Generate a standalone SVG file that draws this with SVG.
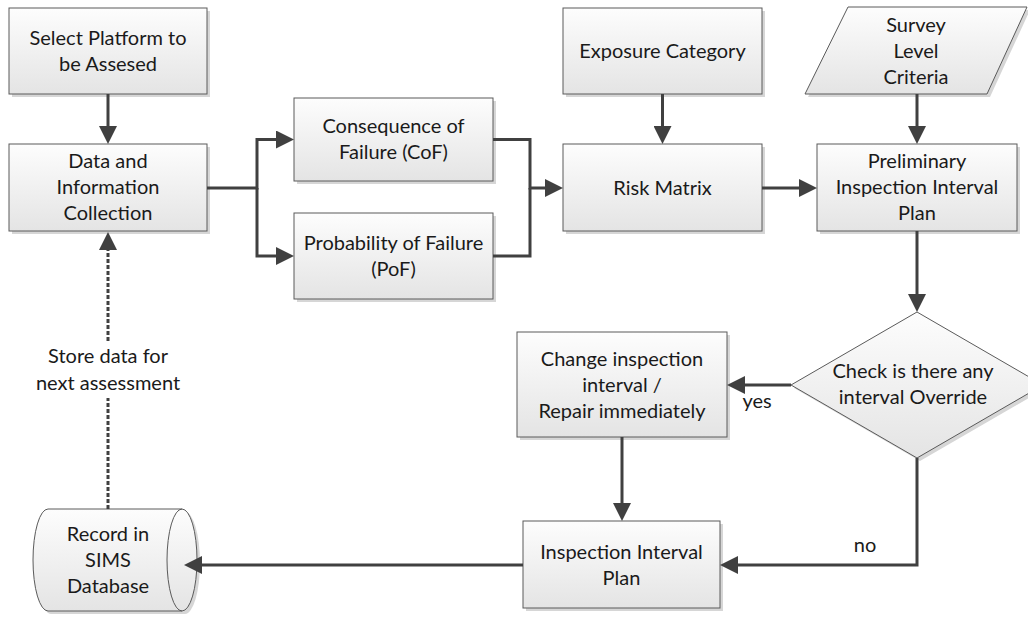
<svg xmlns="http://www.w3.org/2000/svg" width="1028" height="621" viewBox="0 0 1028 621">
  <defs>
    <linearGradient id="fillGrad" x1="0" y1="0" x2="0" y2="1">
      <stop offset="0" stop-color="#fdfdfd"/>
      <stop offset="1" stop-color="#e4e4e4"/>
    </linearGradient>
    <marker id="arrow" markerUnits="userSpaceOnUse" markerWidth="18" markerHeight="18" refX="14" refY="9" orient="auto">
      <path d="M0,0 L18,9 L0,18 z" fill="#404040"/>
    </marker>
    <style>
      .shape { fill: url(#fillGrad); stroke: #5a5a5a; stroke-width: 1; }
      .shadow { fill: #d6d6d6; stroke: none; }
      .label { font-family: Lato, "Liberation Sans", sans-serif; font-size: 20px; fill: #1a1a1a; text-anchor: middle; }
      .conn { fill: none; stroke: #404040; stroke-width: 3; }
      .arrowed { marker-end: url(#arrow); }
      .dotted { stroke-dasharray: 4 2; }
    </style>
  </defs>
  <rect width="1028" height="621" fill="#ffffff"/>

  <g id="select-platform">
    <rect class="shadow" x="12" y="11" width="198" height="86"/>
    <rect class="shape" x="9" y="8" width="198" height="86"/>
    <text class="label" x="108" y="45">Select Platform to</text>
    <text class="label" x="108" y="71">be Assesed</text>
  </g>

  <g id="data-collection">
    <rect class="shadow" x="12" y="147" width="198" height="87"/>
    <rect class="shape" x="9" y="144" width="198" height="87"/>
    <text class="label" x="108" y="168">Data and</text>
    <text class="label" x="108" y="194">Information</text>
    <text class="label" x="108" y="220">Collection</text>
  </g>

  <g id="cof">
    <rect class="shadow" x="297" y="101" width="199" height="83"/>
    <rect class="shape" x="294" y="98" width="199" height="83"/>
    <text class="label" x="393.5" y="133">Consequence of</text>
    <text class="label" x="393.5" y="159">Failure (CoF)</text>
  </g>

  <g id="pof">
    <rect class="shadow" x="297" y="216" width="199" height="86"/>
    <rect class="shape" x="294" y="213" width="199" height="86"/>
    <text class="label" x="393.5" y="250">Probability of Failure</text>
    <text class="label" x="393.5" y="276">(PoF)</text>
  </g>

  <g id="exposure">
    <rect class="shadow" x="566" y="11" width="199" height="86"/>
    <rect class="shape" x="563" y="8" width="199" height="86"/>
    <text class="label" x="662.5" y="58">Exposure Category</text>
  </g>

  <g id="risk-matrix">
    <rect class="shadow" x="566" y="147" width="199" height="87"/>
    <rect class="shape" x="563" y="144" width="199" height="87"/>
    <text class="label" x="662.5" y="194.5">Risk Matrix</text>
  </g>

  <g id="survey">
    <polygon class="shadow" points="851,10 1030,10 990,97 808,97"/>
    <polygon class="shape" points="848,7 1027,7 987,94 805,94"/>
    <text class="label" x="916" y="32">Survey</text>
    <text class="label" x="916" y="58">Level</text>
    <text class="label" x="916" y="84">Criteria</text>
  </g>

  <g id="preliminary">
    <rect class="shadow" x="820" y="147" width="200" height="87"/>
    <rect class="shape" x="817" y="144" width="200" height="87"/>
    <text class="label" x="917" y="168">Preliminary</text>
    <text class="label" x="917" y="194">Inspection Interval</text>
    <text class="label" x="917" y="220">Plan</text>
  </g>

  <g id="override-check">
    <polygon class="shadow" points="920,315 1046,388 920,461 794,388"/>
    <polygon class="shape" points="917,312 1043,385 917,458 791,385"/>
    <text class="label" x="913" y="378">Check is there any</text>
    <text class="label" x="913" y="404">interval Override</text>
  </g>

  <g id="change-interval">
    <rect class="shadow" x="520" y="335" width="210" height="105"/>
    <rect class="shape" x="517" y="332" width="210" height="105"/>
    <text class="label" x="622" y="366">Change inspection</text>
    <text class="label" x="622" y="392">interval /</text>
    <text class="label" x="622" y="418">Repair immediately</text>
  </g>

  <g id="inspection-plan">
    <rect class="shadow" x="526" y="524" width="197" height="87"/>
    <rect class="shape" x="523" y="521" width="197" height="87"/>
    <text class="label" x="621.5" y="558.5">Inspection Interval</text>
    <text class="label" x="621.5" y="584.5">Plan</text>
  </g>

  <g id="sims-database">
    <path class="shadow" d="M51,512 H185 A15,51 0 0 1 185,614 H51 A15,51 0 0 1 51,512 z"/>
    <path class="shape" d="M48,509 H182 A15,51 0 0 1 182,611 H48 A15,51 0 0 1 48,509 z"/>
    <path d="M182,509 A15,51 0 0 0 182,611" fill="none" stroke="#5a5a5a" stroke-width="1"/>
    <text class="label" x="108" y="541">Record in</text>
    <text class="label" x="108" y="567">SIMS</text>
    <text class="label" x="108" y="593">Database</text>
  </g>

  <g id="connectors">
    <path class="conn arrowed" d="M108,94 V140"/>
    <path class="conn arrowed" d="M207,188 H257 V139.5 H290"/>
    <path class="conn arrowed" d="M257,188 V256 H290"/>
    <path class="conn arrowed" d="M493,139.5 H530 V188 H559"/>
    <path class="conn" d="M493,256 H530 V188"/>
    <path class="conn arrowed" d="M662.5,94 V140"/>
    <path class="conn arrowed" d="M762,188 H813"/>
    <path class="conn arrowed" d="M917,94 V140"/>
    <path class="conn arrowed" d="M917,231 V308"/>
    <path class="conn arrowed" d="M791,385 H731"/>
    <path class="conn arrowed" d="M917,458 V565 H724"/>
    <path class="conn arrowed" d="M622,437 V517"/>
    <path class="conn arrowed" d="M523,565 H188"/>
    <path class="conn dotted arrowed" d="M108,509 V236"/>
    <rect x="40" y="343" width="136" height="55" fill="#ffffff"/>
    <text class="label" x="108" y="363">Store data for</text>
    <text class="label" x="108" y="390">next assessment</text>
    <text class="label" x="757" y="408">yes</text>
    <text class="label" x="865" y="552">no</text>
  </g>
</svg>
